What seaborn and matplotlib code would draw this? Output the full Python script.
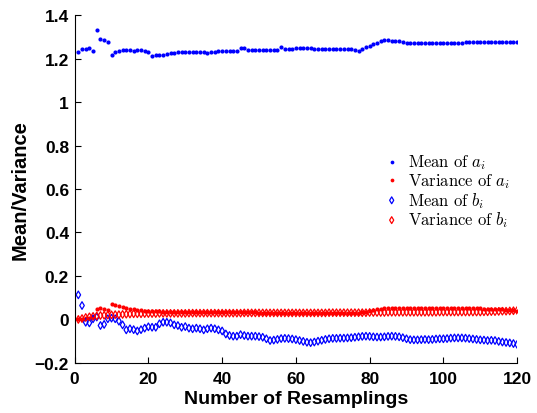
"""Mean/variance of resampled coefficients vs number of resamplings"""
import matplotlib
matplotlib.use('Agg')
import matplotlib.pyplot as plt
import seaborn as sns
import pandas as pd

resamplings = list(range(1, 121))

mean_a = [
    1.232, 1.242, 1.245, 1.247, 1.235, 1.333, 1.290, 1.284, 1.276, 1.216,
    1.230, 1.235, 1.238, 1.239, 1.239, 1.236, 1.238, 1.238, 1.235, 1.232,
    1.213, 1.215, 1.215, 1.215, 1.221, 1.224, 1.227, 1.229, 1.229, 1.230,
    1.230, 1.230, 1.229, 1.229, 1.229, 1.227, 1.229, 1.232, 1.233, 1.235,
    1.235, 1.235, 1.235, 1.235, 1.248, 1.247, 1.238, 1.238, 1.238, 1.238,
    1.238, 1.239, 1.241, 1.240, 1.240, 1.252, 1.246, 1.246, 1.246, 1.247,
    1.247, 1.248, 1.248, 1.248, 1.245, 1.245, 1.244, 1.244, 1.244, 1.243,
    1.243, 1.243, 1.243, 1.242, 1.242, 1.240, 1.236, 1.243, 1.253, 1.260,
    1.266, 1.272, 1.279, 1.286, 1.286, 1.283, 1.279, 1.279, 1.276, 1.274,
    1.274, 1.273, 1.273, 1.273, 1.273, 1.273, 1.273, 1.273, 1.273, 1.273,
    1.273, 1.273, 1.273, 1.273, 1.273, 1.275, 1.275, 1.275, 1.275, 1.275,
    1.277, 1.277, 1.277, 1.277, 1.277, 1.277, 1.277, 1.277, 1.277, 1.277,
]

var_a = [
    0.000, 0.003, 0.006, 0.008, 0.010, 0.049, 0.054, 0.049, 0.044, 0.073,
    0.067, 0.063, 0.057, 0.052, 0.049, 0.046, 0.043, 0.042, 0.040, 0.040,
    0.039, 0.038, 0.037, 0.036, 0.036, 0.035, 0.034, 0.034, 0.034, 0.034,
    0.033, 0.033, 0.033, 0.033, 0.033, 0.032, 0.032, 0.032, 0.032, 0.032,
    0.032, 0.032, 0.032, 0.032, 0.032, 0.032, 0.032, 0.032, 0.032, 0.031,
    0.031, 0.031, 0.031, 0.031, 0.031, 0.031, 0.031, 0.031, 0.031, 0.031,
    0.031, 0.031, 0.031, 0.031, 0.031, 0.031, 0.031, 0.031, 0.031, 0.031,
    0.031, 0.031, 0.031, 0.031, 0.031, 0.031, 0.031, 0.032, 0.034, 0.038,
    0.042, 0.046, 0.049, 0.051, 0.052, 0.052, 0.052, 0.052, 0.052, 0.052,
    0.052, 0.052, 0.052, 0.052, 0.052, 0.052, 0.052, 0.052, 0.052, 0.052,
    0.052, 0.052, 0.052, 0.052, 0.052, 0.051, 0.051, 0.051, 0.051, 0.051,
    0.049, 0.049, 0.049, 0.049, 0.048, 0.046, 0.045, 0.044, 0.043, 0.041,
]

mean_b = [
    0.113, 0.064, -0.013, -0.016, 0.003, 0.011, -0.028, -0.023, 0.003, 0.006,
    0.003, -0.008, -0.025, -0.048, -0.043, -0.047, -0.053, -0.047, -0.040, -0.034,
    -0.036, -0.036, -0.020, -0.013, -0.013, -0.016, -0.025, -0.028, -0.036, -0.033,
    -0.040, -0.043, -0.040, -0.043, -0.048, -0.043, -0.040, -0.043, -0.048, -0.053,
    -0.067, -0.074, -0.077, -0.077, -0.070, -0.074, -0.077, -0.077, -0.077, -0.079,
    -0.082, -0.089, -0.097, -0.095, -0.092, -0.088, -0.087, -0.088, -0.090, -0.093,
    -0.097, -0.101, -0.105, -0.107, -0.104, -0.100, -0.096, -0.092, -0.089, -0.087,
    -0.087, -0.086, -0.086, -0.085, -0.084, -0.082, -0.080, -0.078, -0.077, -0.078,
    -0.080, -0.081, -0.081, -0.080, -0.078, -0.077, -0.078, -0.080, -0.084, -0.089,
    -0.093, -0.094, -0.094, -0.093, -0.092, -0.093, -0.092, -0.090, -0.089, -0.089,
    -0.088, -0.086, -0.085, -0.085, -0.085, -0.086, -0.088, -0.090, -0.092, -0.094,
    -0.095, -0.097, -0.096, -0.097, -0.101, -0.104, -0.106, -0.108, -0.111, -0.115,
]

var_b = [
    0.000, 0.004, 0.009, 0.012, 0.014, 0.016, 0.018, 0.019, 0.020, 0.021,
    0.022, 0.022, 0.023, 0.024, 0.025, 0.026, 0.026, 0.026, 0.027, 0.027,
    0.027, 0.027, 0.028, 0.028, 0.028, 0.028, 0.028, 0.028, 0.028, 0.028,
    0.029, 0.029, 0.029, 0.029, 0.029, 0.029, 0.029, 0.029, 0.029, 0.029,
    0.029, 0.029, 0.029, 0.029, 0.029, 0.030, 0.030, 0.030, 0.030, 0.030,
    0.030, 0.030, 0.030, 0.030, 0.030, 0.030, 0.030, 0.030, 0.030, 0.030,
    0.030, 0.030, 0.030, 0.030, 0.030, 0.030, 0.030, 0.030, 0.031, 0.031,
    0.031, 0.031, 0.031, 0.031, 0.031, 0.031, 0.031, 0.031, 0.031, 0.032,
    0.032, 0.032, 0.032, 0.032, 0.033, 0.033, 0.033, 0.033, 0.033, 0.033,
    0.033, 0.033, 0.033, 0.033, 0.033, 0.033, 0.033, 0.033, 0.034, 0.034,
    0.034, 0.034, 0.034, 0.034, 0.034, 0.034, 0.034, 0.034, 0.034, 0.034,
    0.035, 0.035, 0.036, 0.036, 0.037, 0.038, 0.038, 0.039, 0.040, 0.041,
]

xticks = [0, 20, 40, 60, 80, 100, 120]
yticks = [-0.2, 0, 0.2, 0.4, 0.6, 0.8, 1, 1.2, 1.4]
ytick_labels = ['\u22120.2', '0', '0.2', '0.4', '0.6', '0.8', '1', '1.2', '1.4']

sns.set_style('ticks')
plt.rcParams['font.family'] = ['Liberation Sans', 'DejaVu Sans']
plt.rcParams['mathtext.fontset'] = 'cm'
for key in ['text.color', 'axes.labelcolor', 'xtick.color', 'ytick.color',
            'axes.edgecolor']:
    plt.rcParams[key] = 'black'

df = pd.DataFrame({
    'n': resamplings,
    'mean_a': mean_a,
    'var_a': var_a,
    'mean_b': mean_b,
    'var_b': var_b,
})

fig = plt.figure(figsize=(5.37, 4.14), dpi=100)
ax = fig.add_axes([0.139, 0.121, 0.824, 0.840])

sns.scatterplot(data=df, x='n', y='mean_a', ax=ax, color='#0000ff', marker='o',
                s=9, linewidth=0, label=r'$\mathrm{Mean\ of\ }a_i$')
sns.scatterplot(data=df, x='n', y='var_a', ax=ax, color='#ff0000', marker='o',
                s=9, linewidth=0, label=r'$\mathrm{Variance\ of\ }a_i$')
sns.scatterplot(data=df, x='n', y='mean_b', ax=ax, marker='d', s=15,
                facecolor='none', edgecolor='#0000ff', linewidth=0.9,
                label=r'$\mathrm{Mean\ of\ }b_i$')
sns.scatterplot(data=df, x='n', y='var_b', ax=ax, marker='d', s=15,
                facecolor='none', edgecolor='#ff0000', linewidth=0.9,
                label=r'$\mathrm{Variance\ of\ }b_i$')

ax.set_xlim(0, 120)
ax.set_ylim(-0.2, 1.4)
ax.set_xticks(xticks)
ax.set_yticks(yticks)
ax.set_yticklabels(ytick_labels)
ax.tick_params(direction='in', length=4, width=0.8, labelsize=12.5)
ax.tick_params(axis='x', pad=6)
ax.tick_params(axis='y', pad=4)
for lab in ax.get_xticklabels() + ax.get_yticklabels():
    lab.set_fontweight('bold')
sns.despine(ax=ax)
ax.spines['left'].set_linewidth(0.8)
ax.spines['bottom'].set_linewidth(0.8)

ax.set_xlabel('Number of Resamplings', fontsize=14, fontweight='bold', labelpad=3)
ax.set_ylabel('Mean/Variance', fontsize=14.5, fontweight='bold', labelpad=4)

ax.legend(loc='upper left', bbox_to_anchor=(0.66, 0.64), frameon=False,
          fontsize=12, handletextpad=0.2, labelspacing=0.0,
          markerscale=0.9, borderpad=0.2, handlelength=1.6)

plt.savefig('out.png', dpi=100)
